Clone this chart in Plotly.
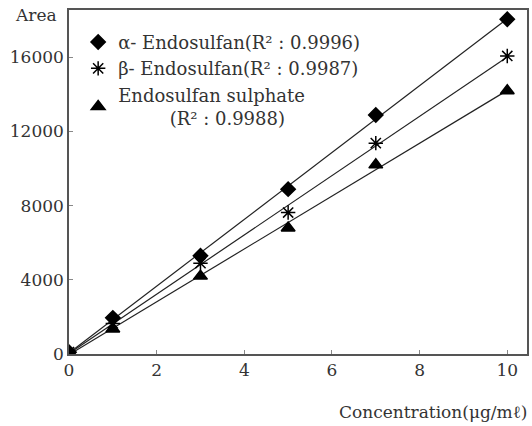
import numpy as np
import plotly.graph_objects as go

conc = [0, 1, 3, 5, 7, 10]
alpha = [100, 1950, 5300, 8890, 12890, 18050]
beta = [100, 1650, 4900, 7630, 11370, 16070]
sulphate = [100, 1350, 4200, 6790, 10200, 14200]

names = ["α- Endosulfan(R² : 0.9996)",
         "β- Endosulfan(R² : 0.9987)",
         "Endosulfan sulphate<br>         (R² : 0.9988)"]
symbols = ["diamond", "asterisk-open", "triangle-up"]
sizes = [11, 12, 12]

x_ticks = [0, 2, 4, 6, 8, 10]
y_ticks = [0, 4000, 8000, 12000, 16000]
y_labels = ["0", "4000", "8000", "12000", "16000"]

FONT = "DejaVu Serif"

fig = go.Figure()
for ys in (alpha, beta, sulphate):
    k, b = np.polyfit(conc, ys, 1)
    xl = [min(conc), max(conc)]
    fig.add_trace(go.Scatter(x=xl, y=[k * v + b for v in xl], mode="lines",
                             line=dict(color="#222", width=1.2),
                             showlegend=False, hoverinfo="skip"))
for ys, nm, sym, sz in zip((alpha, beta, sulphate), names, symbols, sizes):
    fig.add_trace(go.Scatter(x=conc, y=ys, mode="markers", name=nm,
                             marker=dict(symbol=sym, size=sz, color="black",
                                         line=dict(color="black", width=1.5))))

fig.update_layout(
    width=532, height=426,
    margin=dict(l=69, r=3, t=10, b=72),
    paper_bgcolor="white", plot_bgcolor="white",
    font=dict(family=FONT, size=17, color="#333"),
    legend=dict(x=0.02, y=0.96, xanchor="left", yanchor="top",
                bgcolor="rgba(0,0,0,0)", font=dict(family=FONT, size=18, color="#333"),
                tracegroupgap=10, itemwidth=30),
    xaxis=dict(range=[0, 10.45], tickvals=x_ticks, ticks="inside", ticklen=4,
               tickcolor="#888", showline=True, linecolor="#555", linewidth=1.5,
               mirror=True, showgrid=False, zeroline=False,
               tickfont=dict(family=FONT, size=17, color="#333")),
    yaxis=dict(range=[0, 18550], tickvals=y_ticks, ticktext=y_labels,
               ticks="inside", ticklen=4,
               tickcolor="#888", showline=True, linecolor="#555", linewidth=1.5,
               mirror=True, showgrid=False, zeroline=False,
               tickfont=dict(family=FONT, size=17, color="#333")),
    annotations=[
        dict(text="Area", xref="paper", yref="paper", x=0, y=1.0,
             xanchor="right", yanchor="middle", xshift=-10, yshift=-5,
             showarrow=False, font=dict(family=FONT, size=17, color="#333")),
        dict(text="Concentration(μg/mℓ)", xref="paper", yref="paper", x=1, y=0,
             xanchor="right", yanchor="middle", yshift=-58, xshift=2,
             showarrow=False, font=dict(family=FONT, size=17, color="#333")),
    ],
)

fig.write_html("out.html", config={"displayModeBar": False},
               post_script="document.body.style.margin='0';document.body.style.overflow='hidden';")
